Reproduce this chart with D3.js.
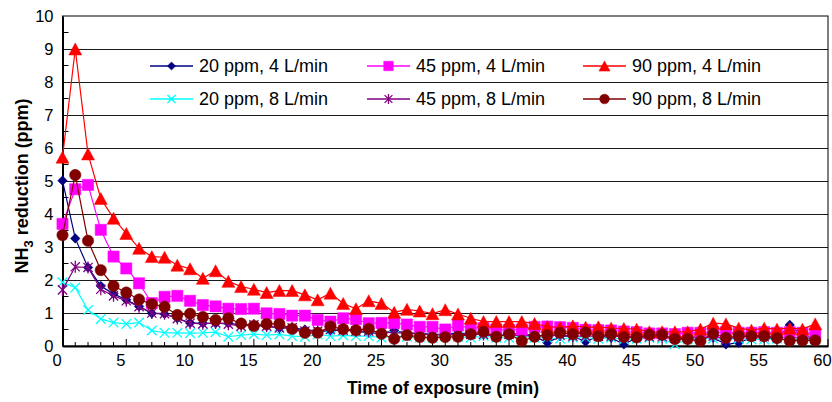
<!DOCTYPE html>
<html><head><meta charset="utf-8">
<script src="https://cdn.jsdelivr.net/npm/d3@7/dist/d3.min.js"></script>
<style>body{margin:0;background:#fff}svg{display:block}text{font-family:"Liberation Sans",Arial,sans-serif}</style>
</head><body>
<svg id="c" width="832" height="402"></svg>
<script>
const times = [0,1,2,3,4,5,6,7,8,9,10,11,12,13,14,15,16,17,18,19,20,21,22,23,24,25,26,27,28,29,30,31,32,33,34,35,36,37,38,39,40,41,42,43,44,45,46,47,48,49,50,51,52,53,54,55,56,57,58,59];
const s20_4 = [5.01,3.26,2.38,1.82,1.58,1.40,1.20,0.99,0.97,0.84,0.70,0.69,0.69,0.69,0.64,0.62,0.60,0.55,0.55,0.50,0.45,0.45,0.50,0.45,0.40,0.38,0.46,0.40,0.38,0.35,0.35,0.40,0.35,0.35,0.30,0.35,0.38,0.30,0.10,0.30,0.30,0.13,0.30,0.25,0.05,0.25,0.30,0.30,0.20,0.25,0.25,0.25,0.05,0.10,0.25,0.25,0.20,0.64,0.30,0.25];
const s45_4 = [3.70,4.75,4.88,3.52,2.71,2.35,1.90,1.30,1.49,1.52,1.37,1.24,1.20,1.13,1.12,1.13,0.99,0.97,0.92,0.92,0.79,0.74,0.84,0.81,0.69,0.70,0.70,0.65,0.58,0.58,0.50,0.62,0.55,0.54,0.50,0.48,0.50,0.58,0.59,0.57,0.55,0.49,0.48,0.47,0.44,0.42,0.38,0.38,0.36,0.40,0.40,0.42,0.42,0.40,0.40,0.42,0.40,0.42,0.40,0.38];
const s90_4 = [5.72,9.00,5.82,4.47,3.87,3.41,2.96,2.71,2.69,2.45,2.34,2.05,2.28,1.96,1.80,1.72,1.62,1.68,1.68,1.55,1.40,1.60,1.29,1.13,1.37,1.29,1.02,1.11,1.06,0.98,1.10,0.97,0.84,0.74,0.74,0.74,0.74,0.68,0.59,0.56,0.61,0.57,0.58,0.54,0.53,0.51,0.43,0.43,0.43,0.43,0.51,0.69,0.67,0.54,0.48,0.54,0.51,0.54,0.51,0.67];
const s20_8 = [1.93,1.77,1.09,0.82,0.71,0.67,0.71,0.47,0.40,0.40,0.39,0.40,0.42,0.28,0.33,0.36,0.33,0.35,0.30,0.28,0.35,0.30,0.32,0.30,0.30,0.25,0.30,0.28,0.25,0.25,0.30,0.28,0.25,0.30,0.25,0.25,0.30,0.25,0.25,0.22,0.25,0.25,0.22,0.25,0.20,0.22,0.25,0.22,0.05,0.20,0.22,0.22,0.20,0.22,0.20,0.20,0.22,0.20,0.20,0.20];
const s45_8 = [1.70,2.40,2.38,1.72,1.52,1.37,1.19,1.00,0.98,0.83,0.69,0.67,0.70,0.66,0.60,0.64,0.60,0.55,0.55,0.45,0.45,0.50,0.48,0.45,0.45,0.42,0.40,0.40,0.35,0.35,0.32,0.35,0.35,0.35,0.30,0.35,0.30,0.33,0.30,0.33,0.30,0.30,0.30,0.30,0.28,0.30,0.28,0.28,0.25,0.30,0.25,0.30,0.20,0.28,0.30,0.28,0.28,0.25,0.25,0.22];
const s90_8 = [3.36,5.18,3.19,2.30,1.82,1.62,1.41,1.27,1.19,0.94,0.98,0.88,0.79,0.84,0.68,0.61,0.67,0.67,0.52,0.40,0.40,0.59,0.51,0.48,0.52,0.37,0.22,0.33,0.27,0.25,0.27,0.28,0.36,0.43,0.28,0.36,0.15,0.28,0.33,0.40,0.36,0.41,0.30,0.36,0.27,0.26,0.34,0.34,0.21,0.21,0.15,0.37,0.25,0.30,0.30,0.30,0.24,0.16,0.17,0.17];
const seriesNames = ["20 ppm, 4 L/min","45 ppm, 4 L/min","90 ppm, 4 L/min","20 ppm, 8 L/min","45 ppm, 8 L/min","90 ppm, 8 L/min"];
const xTicks = [0,5,10,15,20,25,30,35,40,45,50,55,60];
const yTicks = [0,1,2,3,4,5,6,7,8,9,10];

const series = [
  {name:seriesNames[0], vals:s20_4, color:"#000080", marker:"diamond"},
  {name:seriesNames[1], vals:s45_4, color:"#FF00FF", marker:"square"},
  {name:seriesNames[2], vals:s90_4, color:"#FF0000", marker:"triangle"},
  {name:seriesNames[3], vals:s20_8, color:"#00FFFF", marker:"x"},
  {name:seriesNames[4], vals:s45_8, color:"#800080", marker:"star"},
  {name:seriesNames[5], vals:s90_8, color:"#800000", marker:"circle"}
];
const drawOrder = [0,3,4,1,2,5];

const svg = d3.select("#c");
const L = 62.5, R = 828, T = 16, B = 346;
const x = d3.scaleLinear().domain([0,60]).range([L,R]);
const y = d3.scaleLinear().domain([0,10]).range([B,T]);

function markerPath(type, s){
  s = s||1;
  switch(type){
    case "diamond": {const h=4.8*s; return `M0,${-h}L${h},0L0,${h}L${-h},0Z`;}
    case "square": {const h=5.6*s; return `M${-h},${-h}H${h}V${h}H${-h}Z`;}
    case "triangle": {const w=6.5*s,h=6*s; return `M0,${-h}L${w},${h}L${-w},${h}Z`;}
    case "x": {const h=4.8*s; return `M${-h},${-h}L${h},${h}M${h},${-h}L${-h},${h}`;}
    case "star": {const h=4.6*s; return `M${-h},${-h}L${h},${h}M${h},${-h}L${-h},${h}M0,${-h*1.3}V${h*1.3}`;}
    case "circle": {const r=5.7*s; return `M${r},0A${r},${r} 0 1,1 ${-r},0A${r},${r} 0 1,1 ${r},0Z`;}
  }
}
function isStroke(t){return t==="x"||t==="star";}

svg.append("g").selectAll("line").data(yTicks.filter(d=>d>0&&d<10)).join("line")
  .attr("x1",L).attr("x2",R).attr("y1",d=>Math.round(y(d))+0.5).attr("y2",d=>Math.round(y(d))+0.5)
  .attr("stroke","#1a1a1a").attr("stroke-width",1.2);

svg.append("rect").attr("x",L).attr("y",T).attr("width",R-L).attr("height",B-T)
  .attr("fill","none").attr("stroke","#000").attr("stroke-width",1);

const xAxis = d3.axisBottom(x).tickValues(xTicks).tickSize(0).tickPadding(8);
const gx = svg.append("g").attr("transform",`translate(0,${B})`).call(xAxis);
gx.select(".domain").attr("stroke","#000").attr("stroke-width",2);
gx.selectAll("text").attr("font-size",16.5).attr("fill","#000").attr("dx",-6);
const xMinor = d3.range(0,61).map(i=>times[i]!==undefined?times[i]:60);
svg.append("g").selectAll("line").data(xMinor).join("line")
  .attr("x1",d=>x(d)).attr("x2",d=>x(d)).attr("y1",B).attr("y2",d=>d%5===0?B-7:B-4)
  .attr("stroke","#000").attr("stroke-width",1);

const yAxis = d3.axisLeft(y).tickValues(yTicks).tickSize(0).tickPadding(9);
const gy = svg.append("g").attr("transform",`translate(${L},0)`).call(yAxis);
gy.select(".domain").attr("stroke","#000").attr("stroke-width",2);
gy.selectAll("text").attr("font-size",16.5).attr("fill","#000");
svg.append("g").selectAll("line").data(d3.range(0,10).map(i=>yTicks[i]+0.5)).join("line")
  .attr("x1",L).attr("x2",L+6).attr("y1",d=>y(d)).attr("y2",d=>y(d))
  .attr("stroke","#000").attr("stroke-width",1);

const line = d3.line().x((d,i)=>x(times[i])).y(d=>y(d));
drawOrder.forEach(k=>{
  const s = series[k];
  const g = svg.append("g");
  g.append("path").attr("d",line(s.vals)).attr("fill","none").attr("stroke",s.color).attr("stroke-width",1.2);
  g.selectAll("path.m").data(s.vals).join("path").attr("class","m")
    .attr("transform",(d,i)=>`translate(${x(times[i])},${y(d)})`)
    .attr("d",markerPath(s.marker))
    .attr("fill",isStroke(s.marker)?"none":s.color)
    .attr("stroke",s.color).attr("stroke-width",isStroke(s.marker)?1.3:0.5);
});

const legCols = [150,367,583], legRows = [66,99];
series.forEach((s,i)=>{
  const cx = legCols[Math.floor(i%3)], cy = legRows[Math.floor(i/3)];
  const g = svg.append("g").attr("transform",`translate(${cx},${cy})`);
  g.append("line").attr("x1",0).attr("x2",43).attr("y1",0).attr("y2",0).attr("stroke",s.color).attr("stroke-width",1.5);
  g.append("path").attr("transform","translate(21.5,0)").attr("d",markerPath(s.marker,0.85))
    .attr("fill",isStroke(s.marker)?"none":s.color).attr("stroke",s.color).attr("stroke-width",isStroke(s.marker)?1.3:0.5);
  g.append("text").attr("x",49).attr("y",0).attr("dy","0.35em").attr("font-size",18).attr("fill","#000").text(s.name);
});

svg.append("text").attr("x",443).attr("y",394).attr("text-anchor","middle").attr("font-size",17.5).attr("font-weight","bold").text("Time of exposure (min)");
const yt = svg.append("text").attr("transform","translate(28,186) rotate(-90)").attr("text-anchor","middle").attr("font-size",18).attr("font-weight","bold");
yt.append("tspan").text("NH");
yt.append("tspan").attr("font-size",13).attr("dy",5).text("3");
yt.append("tspan").attr("dy",-5).text(" reduction (ppm)");
</script>
</body></html>
